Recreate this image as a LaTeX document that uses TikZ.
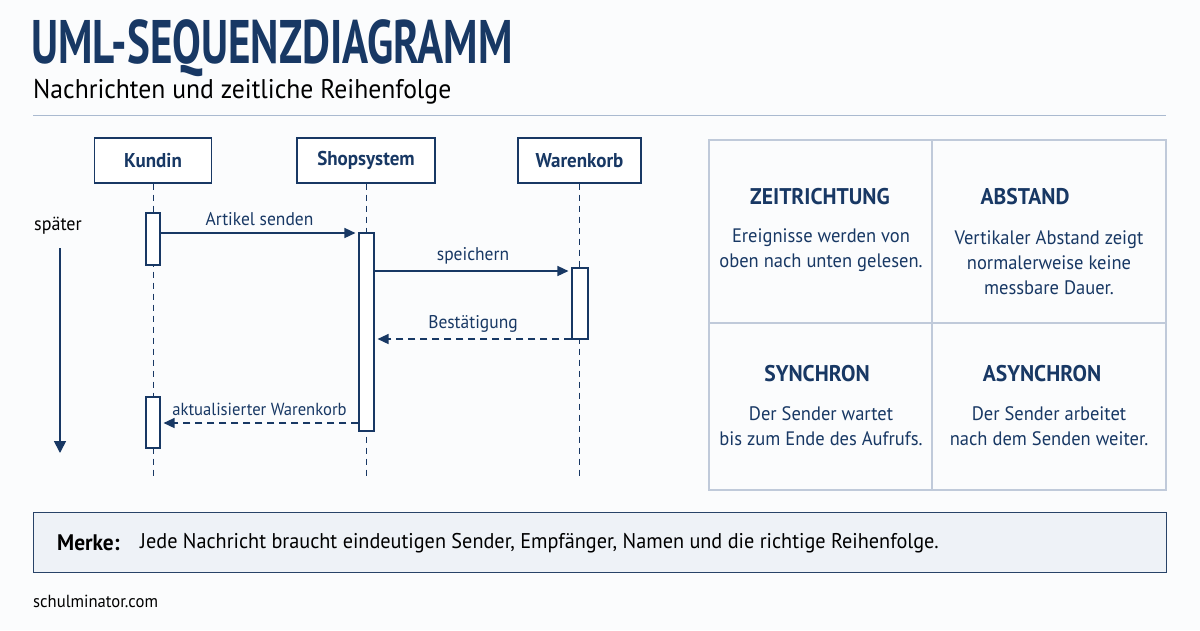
\documentclass[tikz,border=0pt]{standalone}
\usepackage{fontspec}
\usepackage{xcolor}
\usepackage{tikz}
\usetikzlibrary{arrows.meta, positioning, calc}
\setmainfont{PT Sans}[FakeStretch=0.95]
\newfontfamily\titlefont{PT Sans}[FakeStretch=0.70]
\definecolor{SeqNavy}{RGB}{24, 56, 100}
\definecolor{SeqGrid}{RGB}{192, 202, 218}
\definecolor{SeqRule}{RGB}{170, 186, 208}
\definecolor{SeqNote}{RGB}{238, 242, 247}
\definecolor{SeqPaper}{RGB}{251, 252, 253}

\begin{document}
\begin{tikzpicture}[x=1pt, y=-1pt, font=\color{SeqNavy},
    headbox/.style={draw=SeqNavy, line width=1.1pt, fill=white, minimum width=117pt,
      minimum height=45pt, font=\fontsize{20}{22}\selectfont\bfseries\color{SeqNavy}},
    lifeline/.style={draw=SeqNavy, line width=1pt, dash pattern=on 6pt off 5pt},
    aktbar/.style={draw=SeqNavy, line width=1.1pt, fill=white, minimum width=14pt, inner sep=0pt},
    msg/.style={draw=SeqNavy, line width=1.4pt, -{Triangle[length=11pt, width=10pt]}, shorten >=3pt},
    antwort/.style={msg, dash pattern=on 7pt off 5pt},
    msglabel/.style={above=3pt, font=\fontsize{18.4}{21}\selectfont\color{SeqNavy}},
    cellhead/.style={font=\fontsize{22.7}{25}\selectfont\bfseries\color{SeqNavy}},
    celltext/.style={align=center, font=\fontsize{19.5}{25}\selectfont\color{SeqNavy}}]
  \useasboundingbox (0,0) rectangle (1200,630);
  \fill[SeqPaper] (0,0) rectangle (1200,630);

  % Titel
  \node[anchor=base west, inner sep=0pt] (titel) at (31,63)
    {\titlefont\bfseries\fontsize{61.5}{64}\selectfont UML-SEQUENZDIAGRAMM};
  \node[anchor=base west, inner sep=0pt, font=\fontsize{27}{29}\selectfont] (untertitel) at (33,98)
    {Nachrichten und zeitliche Reihenfolge};
  \draw[SeqRule, line width=1pt] (33,115) -- (1166,115);

  % Kopfzeilen der Lebenslinien
  \node[headbox] (kundin) at (153,160.5) {Kundin};
  \node[headbox, minimum width=138pt] (shop) at (366,160.5) {Shopsystem};
  \node[headbox, minimum width=123pt] (korb) at (579.5,160.5) {Warenkorb};

  \coordinate (kundinEnde) at (153,480);
  \coordinate (shopEnde) at (366,480);
  \coordinate (korbEnde) at (579.5,480);
  \draw[lifeline] (kundin.south) -- (kundinEnde);
  \draw[lifeline] (shop.south) -- (shopEnde);
  \draw[lifeline] (korb.south) -- (korbEnde);

  % Aktivierungsbalken
  \node[aktbar, minimum height=52pt] (akt1) at (153,239) {};
  \node[aktbar, minimum width=15pt, minimum height=198pt] (akt2) at (366.5,332) {};
  \node[aktbar, minimum width=16pt, minimum height=71pt] (akt3) at (580,303.5) {};
  \node[aktbar, minimum height=51pt] (akt4) at (153,422.5) {};

  % Nachrichten
  \coordinate (t1) at (0,233);
  \coordinate (t2) at (0,271);
  \coordinate (t3) at (0,339);
  \coordinate (t4) at (0,423);
  \draw[msg] (akt1.east |- t1) -- node[msglabel] {Artikel senden} (akt2.west |- t1);
  \draw[msg] (akt2.east |- t2) -- node[msglabel] {speichern} (akt3.west |- t2);
  \draw[antwort] (akt3.west |- t3) -- node[msglabel] {Bestätigung} (akt2.east |- t3);
  \draw[antwort] (akt2.west |- t4) -- node[msglabel, font=\fontsize{17.5}{20}\selectfont\color{SeqNavy}]
    {aktualisierter Warenkorb} (akt4.east |- t4);

  % Zeitachse
  \node[font=\fontsize{19}{21}\selectfont] (spaeter) at (58,226) {später};
  \coordinate (zeitStart) at (60,248);
  \coordinate (zeitEnde) at (60,453);
  \draw[SeqNavy, line width=1.7pt, -{Triangle[length=12pt, width=12pt]}] (zeitStart) -- (zeitEnde);

  % Erklaerungen
  \draw[SeqGrid, line width=1.3pt] (709,140) rectangle (1166,490);
  \draw[SeqGrid, line width=1.3pt] (932,140) -- (932,490);
  \draw[SeqGrid, line width=1.3pt] (709,323) -- (1166,323);

  \node[cellhead] (zeit) at (820,197) {ZEITRICHTUNG};
  \node[celltext] (zeitText) at (821,250.5) {Ereignisse werden von\\oben nach unten gelesen.};
  \node[cellhead] (abstand) at (1025,197) {ABSTAND};
  \node[celltext] (abstandText) at (1049,262.5) {Vertikaler Abstand zeigt\\normalerweise keine\\messbare Dauer.};
  \node[cellhead] (sync) at (817,374) {SYNCHRON};
  \node[celltext] (syncText) at (821,426) {Der Sender wartet\\bis zum Ende des Aufrufs.};
  \node[cellhead] (async) at (1042,374) {ASYNCHRON};
  \node[celltext] (asyncText) at (1049,426) {Der Sender arbeitet\\nach dem Senden weiter.};

  % Merksatz
  \node[draw=SeqNavy!85!gray, line width=1pt, fill=SeqNote, minimum width=1133pt, minimum height=60pt,
        anchor=north west] (merke) at (33,512) {};
  \node[anchor=west, inner sep=0pt, font=\fontsize{22.5}{24}\selectfont\bfseries] (merkeTitel) at (57,543) {Merke:};
  \node[anchor=west, inner sep=0pt, font=\fontsize{21.3}{23}\selectfont] (merkeText) at (140,543)
    {Jede Nachricht braucht eindeutigen Sender, Empfänger, Namen und die richtige Reihenfolge.};

  \node[anchor=west, inner sep=0pt, font=\fontsize{17.5}{19}\selectfont] (quelle) at (33,601) {schulminator.com};
\end{tikzpicture}
\end{document}
